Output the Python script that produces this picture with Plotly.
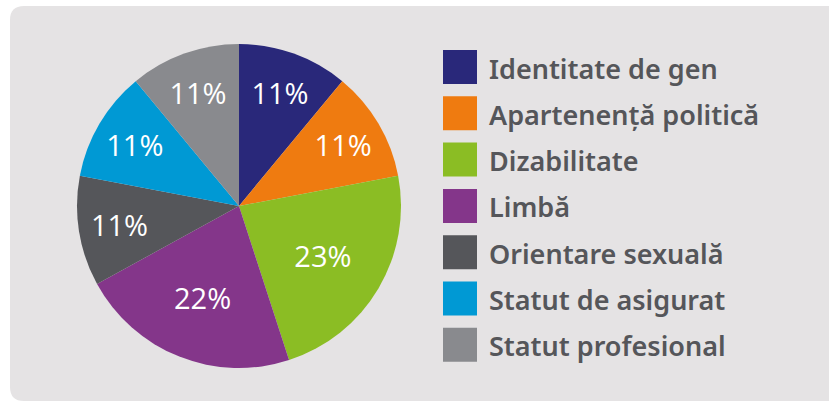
import plotly.graph_objects as go

labels = ["Identitate de gen", "Apartenență politică", "Dizabilitate", "Limbă",
          "Orientare sexuală", "Statut de asigurat", "Statut profesional"]
values = [11, 11, 23, 22, 11, 11, 11]
colors = ["#29287a", "#ef7b10", "#8bbd24", "#84368a", "#55565a", "#0099d4", "#898a8e"]

W, H = 829, 402
BG = "#e5e3e4"

fig = go.Figure()
fig.add_trace(go.Pie(
    labels=labels, values=values, sort=False, direction="clockwise", rotation=0,
    marker=dict(colors=colors, line=dict(width=0)),
    texttemplate="%{value}%", textposition="inside", insidetextorientation="horizontal",
    textfont=dict(family="Open Sans", size=29, color="white"),
    domain=dict(x=[77 / W, 401 / W], y=[(H - 368) / H, (H - 44) / H]),
    showlegend=False, hoverinfo="label+value",
))

# rounded background panel (paper pixel geometry)
x0, y0, x1, y1, r = 10, 6, 845, 401, 14
def px(x):
    return x / W
def py(y):
    return 1 - y / H
path = (f"M {px(x0 + r)},{py(y0)} L {px(x1)},{py(y0)} L {px(x1)},{py(y1)} "
        f"L {px(x0 + r)},{py(y1)} Q {px(x0)},{py(y1)} {px(x0)},{py(y1 - r)} "
        f"L {px(x0)},{py(y0 + r)} Q {px(x0)},{py(y0)} {px(x0 + r)},{py(y0)} Z")
shapes = [dict(type="path", xref="paper", yref="paper", path=path,
               fillcolor=BG, line=dict(width=0), layer="below")]

annotations = []
sq_x0, sq = 443, 34
row0, step = 50, 46.3
for i, (lab, col) in enumerate(zip(labels, colors)):
    top = row0 + i * step
    shapes.append(dict(type="rect", xref="paper", yref="paper",
                       x0=px(sq_x0), x1=px(sq_x0 + sq), y0=py(top + sq), y1=py(top),
                       fillcolor=col, line=dict(width=0)))
    annotations.append(dict(xref="paper", yref="paper", x=px(487), y=py(top + sq / 2 + 1),
                            xanchor="left", yanchor="middle", showarrow=False, text=lab,
                            font=dict(family="Noto Sans", size=27, color="#55565a", weight=600)))

fig.update_layout(
    width=W, height=H, margin=dict(l=0, r=0, t=0, b=0),
    paper_bgcolor="white", plot_bgcolor="white",
    shapes=shapes, annotations=annotations,
)
fig.write_html("out.html", config={"displayModeBar": False},
               post_script="document.body.style.margin='0';document.body.style.overflow='hidden';")
